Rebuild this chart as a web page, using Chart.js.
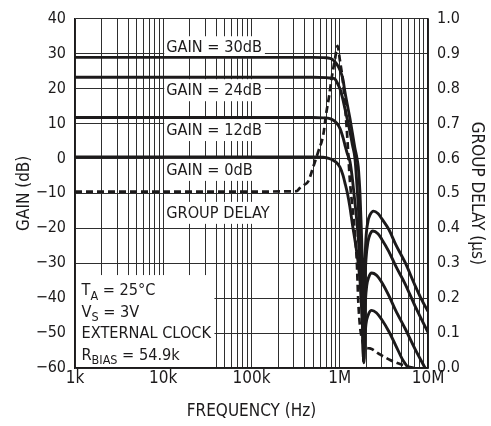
<!DOCTYPE html>
<html>
<head>
<meta charset="utf-8">
<script src="https://cdn.jsdelivr.net/npm/chart.js@4.4.1/dist/chart.umd.min.js"></script>
<style>
  html, body { margin: 0; padding: 0; background: #fff; }
  canvas { display: block; }
</style>
</head>
<body>
<canvas id="c" width="491" height="426"></canvas>
<script>
/* Gain and group delay vs frequency. */
const freqTickLabels = ["1k", "10k", "100k", "1M", "10M"];

// GAIN = 30dB curve (dB)
const g30Freq = [1e3, 1e5, 5e5, 7e5, 7.74e5, 8.38e5, 8.83e5, 9.29e5, 1.005e6, 1.087e6, 1.145e6, 1.222e6,
  1.305e6, 1.394e6, 1.486e6, 1.56e6, 1.622e6, 1.66e6, 1.695e6, 1.754e6, 1.811e6, 1.85e6, 1.87e6,
  1.89e6, 1.93e6, 1.98e6, 2.09e6, 2.2e6, 2.42e6, 2.71e6, 3.0e6, 3.59e6, 4.3e6, 5.5e6, 7.14e6, 8.5e6, 1e7];
const g30dB = [28.9, 28.9, 28.9, 28.8, 28.6, 28.2, 27.6, 26.9, 25.3, 22.6, 19.0, 15.2,
  11.4, 7.1, 2.9, 0.3, -2.5, -6, -10, -20, -32, -45, -57,
  -42, -30, -23, -18, -16.2, -15.1, -15.8, -17.3, -20.3, -24.6, -29.8, -36.4, -40.5, -43.8];

// GAIN = 24dB curve (dB)
const g24Freq = [1e3, 1e5, 5e5, 7e5, 7.74e5, 8.38e5, 8.83e5, 9.29e5, 1.005e6, 1.087e6, 1.145e6, 1.222e6,
  1.305e6, 1.394e6, 1.486e6, 1.588e6, 1.674e6, 1.741e6, 1.811e6, 1.87e6,
  1.89e6, 1.93e6, 1.98e6, 2.09e6, 2.2e6, 2.37e6, 2.71e6, 3.0e6, 3.59e6, 4.3e6, 5.5e6, 7.14e6, 8.5e6, 1e7];
const g24dB = [23.2, 23.2, 23.2, 23.1, 23.0, 22.9, 22.7, 21.8, 19.9, 16.8, 14.2, 11.0,
  7.6, 3.8, 0, -10, -20, -30, -42, -58,
  -45, -35, -29, -23.8, -21.8, -20.8, -21.6, -23.2, -26.6, -30.8, -35.9, -42.3, -46.2, -49.8];

// GAIN = 12dB curve (dB)
const g12Freq = [1e3, 1e5, 5e5, 6.5e5, 7.74e5, 8.38e5, 8.83e5, 9.29e5, 1.005e6, 1.087e6, 1.145e6, 1.222e6,
  1.305e6, 1.37e6, 1.449e6, 1.52e6, 1.588e6, 1.695e6, 1.786e6, 1.87e6,
  1.9e6, 1.95e6, 2.02e6, 2.13e6, 2.3e6, 2.6e6, 3.0e6, 3.59e6, 4.3e6, 5.5e6, 7.14e6, 9.27e6];
const g12dB = [11.7, 11.7, 11.7, 11.6, 11.4, 11.0, 10.6, 10.0, 8.6, 6.0, 3.8, 1.2,
  -0.9, -4.5, -10, -15, -20, -30, -42, -58,
  -48, -41, -36.5, -34, -32.8, -33.4, -35.5, -39.2, -43.5, -48.7, -54.6, -60];

// GAIN = 0dB curve (dB)
const g0Freq = [1e3, 1e5, 5e5, 6.5e5, 7.5e5, 8.5e5, 9.29e5, 1.005e6, 1.087e6, 1.145e6, 1.222e6,
  1.305e6, 1.394e6, 1.5e6, 1.6e6, 1.695e6, 1.741e6, 1.81e6, 1.87e6,
  1.92e6, 1.98e6, 2.1e6, 2.3e6, 2.6e6, 3.0e6, 3.59e6, 4.3e6, 5.2e6, 6.0e6];
const g0dB = [0.4, 0.4, 0.4, 0.3, 0.0, -0.6, -1.3, -2.5, -4.8, -7, -10,
  -14, -19, -24, -29, -35, -40, -48, -58.5,
  -52, -47.5, -44.8, -43.5, -44.2, -46.2, -49.5, -53.5, -57.8, -60];

// Group delay (µs), right axis
const gdFreq = [1e3, 1e5, 3.24e5, 3.53e5, 3.9e5, 4.39e5, 5e5, 5.7e5, 6.5e5, 7.07e5, 7.6e5, 8.08e5,
  8.83e5, 9.44e5, 1.005e6, 1.087e6, 1.2e6, 1.305e6, 1.37e6, 1.486e6, 1.56e6, 1.62e6, 1.695e6,
  1.8e6, 1.9e6, 2.2e6, 2.8e6, 3.72e6, 5.0e6, 5.94e6, 7.1e6];
const gdUs = [0.505, 0.505, 0.506, 0.515, 0.523, 0.534, 0.575, 0.619, 0.667, 0.733, 0.78, 0.828,
  0.884, 0.922, 0.88, 0.818, 0.685, 0.534, 0.477, 0.384, 0.307, 0.193, 0.12,
  0.08, 0.06, 0.056, 0.04, 0.023, 0.01, 0.004, 0.0];

// in-plot labels: text, left edge frequency, centre in dB
const curveLabels = ["GAIN = 30dB", "GAIN = 24dB", "GAIN = 12dB", "GAIN = 0dB", "GROUP DELAY"];
const curveLabelDb = [31.8, 19.5, 8.1, -3.3, -15.6];
const curveLabelFreq = 1e4;

// conditions box: [main, subscript, rest]
const condLines = [["T", "A", " = 25°C"], ["V", "S", " = 3V"], ["EXTERNAL CLOCK", "", ""], ["R", "BIAS", " = 54.9k"]];

const INK = "#1c1a1b";
const GRID = "#2e2e2e";
const COND = "'DejaVu Sans Condensed', 'Liberation Sans', sans-serif";

const pts = (f, v) => f.map((x, i) => ({ x, y: v[i] }));
const curve = (f, v, axis, dash) => ({
  data: pts(f, v), yAxisID: axis, borderColor: INK, borderWidth: dash ? 2.7 : 2.9,
  borderDash: dash || [], pointRadius: 0, fill: false, cubicInterpolationMode: "monotone",
});

const overlay = {
  id: "overlay",
  beforeDatasetsDraw(chart) {
    const { ctx, chartArea: a, scales } = chart;
    const xs = scales.x, ys = scales.y;
    ctx.save();
    ctx.font = `16.2px ${COND}`;
    ctx.textBaseline = "middle";
    curveLabels.forEach((t, i) => {
      const x0 = xs.getPixelForValue(curveLabelFreq) + 1;
      const yc = ys.getPixelForValue(curveLabelDb[i]);
      const w = ctx.measureText(t).width + 5;
      ctx.fillStyle = "#fff";
      ctx.fillRect(x0, yc - 11, w, 22);
      ctx.fillStyle = INK;
      ctx.fillText(t, x0 + 2, yc + 1);
    });
    // conditions box, bottom-left corner
    const bx1 = xs.getPixelForValue(3.8e4), by0 = ys.getPixelForValue(-33.4);
    ctx.fillStyle = "#fff";
    ctx.fillRect(a.left + 1, by0, bx1 - a.left - 1, a.bottom - by0 - 1);
    ctx.fillStyle = INK;
    ctx.textBaseline = "alphabetic";
    condLines.forEach((ln, i) => {
      let x = a.left + 6.5;
      const yb = by0 + 20 + i * 21.6;
      ctx.font = `16.2px ${COND}`;
      ctx.fillText(ln[0], x, yb); x += ctx.measureText(ln[0]).width;
      if (ln[1]) {
        ctx.font = `12.5px ${COND}`;
        ctx.fillText(ln[1], x, yb + 4.5); x += ctx.measureText(ln[1]).width;
      }
      ctx.font = `16.2px ${COND}`;
      ctx.fillText(ln[2], x, yb);
    });
    ctx.restore();
  },
};

Chart.defaults.font.family = COND;
Chart.defaults.color = INK;

new Chart(document.getElementById("c"), {
  type: "line",
  data: {
    datasets: [
      curve(g30Freq, g30dB, "y"),
      curve(g24Freq, g24dB, "y"),
      curve(g12Freq, g12dB, "y"),
      curve(g0Freq, g0dB, "y"),
      curve(gdFreq, gdUs, "y1", [7, 4]),
    ],
  },
  options: {
    responsive: false, devicePixelRatio: 1, animation: false,
    layout: { padding: { top: 16, left: 0, right: 0, bottom: 0 } },
    plugins: { legend: { display: false }, tooltip: { enabled: false } },
    scales: {
      x: {
        type: "logarithmic", min: 1e3, max: 1e7,
        afterBuildTicks(s) {
          const t = [];
          for (let d = 1e3; d <= 1e7; d *= 10)
            for (let m = 1; m <= 9; m++) if (m * d <= 1e7) t.push({ value: m * d });
          s.ticks = t;
        },
        ticks: {
          autoSkip: false, maxRotation: 0, padding: 0, color: INK, font: { size: 17 },
          callback: v => {
            const p = Math.log10(v) - 3;
            return Math.abs(p - Math.round(p)) < 1e-9 ? freqTickLabels[Math.round(p)] : "";
          },
        },
        grid: { color: GRID, lineWidth: 1, drawTicks: false },
        border: { color: INK, width: 1.5 },
        title: { display: true, text: "FREQUENCY (Hz)", color: INK,
          font: { size: 17 }, padding: { top: 0, bottom: 4 } },
        afterFit(s) { s.height = 58; },
      },
      y: {
        position: "left", min: -60, max: 40,
        ticks: { stepSize: 10, padding: 9, color: INK, font: { size: 16 },
          callback: v => (v < 0 ? "\u2212" + (-v) : String(v)) },
        grid: { color: GRID, lineWidth: 1, drawTicks: false },
        border: { color: INK, width: 1.5 },
        title: { display: true, text: "GAIN (dB)", color: INK,
          font: { size: 17 }, padding: { top: 14, bottom: 0 } },
        afterFit(s) { s.width = 75; },
      },
      y1: {
        position: "right", min: 0, max: 1,
        ticks: { stepSize: 0.1, padding: 9, color: INK, font: { size: 16 },
          callback: v => v.toFixed(1) },
        grid: { display: false, drawTicks: false },
        border: { color: INK, width: 1.5 },
        title: { display: true, text: "GROUP DELAY (µs)", color: INK,
          font: { size: 17 }, padding: { top: 4, bottom: 0 } },
        afterFit(s) { s.width = 63; },
      },
    },
  },
  plugins: [overlay],
});
</script>
</body>
</html>
